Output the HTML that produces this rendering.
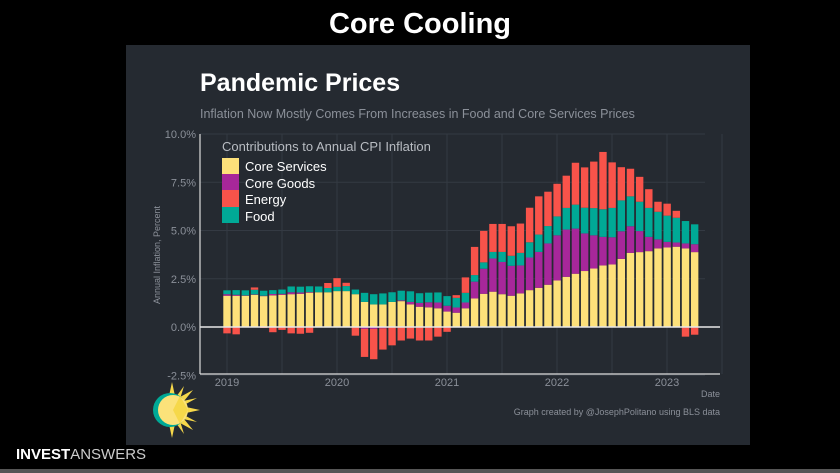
<!DOCTYPE html>
<html><head><meta charset="utf-8"><style>
html,body{margin:0;padding:0;background:#000;width:840px;height:473px;overflow:hidden;font-family:"Liberation Sans",sans-serif}
</style></head><body>
<svg width="840" height="473" viewBox="0 0 840 473">
<rect x="0" y="0" width="840" height="473" fill="#000"/>
<rect x="0" y="469" width="840" height="4" fill="#555"/>
<text x="420" y="33" text-anchor="middle" font-size="29" font-weight="bold" fill="#fff">Core Cooling</text>
<rect x="126" y="45" width="624" height="400" fill="#252a31"/>
<text x="200" y="91" font-size="25" font-weight="bold" fill="#fff">Pandemic Prices</text>
<text x="200" y="118" font-size="12.5" fill="#8b9099">Inflation Now Mostly Comes From Increases in Food and Core Services Prices</text>
<g id="grid"></g>
<g id="bars"></g>
<g id="axes"></g>
<text transform="translate(160,255) rotate(-90)" text-anchor="middle" font-size="9" fill="#8b9099">Annual Inflation, Percent</text>
<text x="720" y="397" text-anchor="end" font-size="9" fill="#8b9099">Date</text>
<text x="720" y="415" text-anchor="end" font-size="9" fill="#8b9099">Graph created by @JosephPolitano using BLS data</text>
<g>
<text x="222" y="151" font-size="13" fill="#b8bcc2">Contributions to Annual CPI Inflation</text>
<rect x="222" y="158" width="17" height="16" fill="#fde17a"/>
<text x="245" y="171" font-size="13" fill="#fff">Core Services</text>
<rect x="222" y="174" width="17" height="16" fill="#a7279a"/>
<text x="245" y="188" font-size="13" fill="#fff">Core Goods</text>
<rect x="222" y="190" width="17" height="17" fill="#f8534a"/>
<text x="245" y="204" font-size="13" fill="#fff">Energy</text>
<rect x="222" y="207" width="17" height="16" fill="#00a996"/>
<text x="245" y="221" font-size="13" fill="#fff">Food</text>
</g>
<g>
<g fill="#f6d84a">
<polygon points="172,382 175,396 169,396"/><polygon points="172,438 175,424 169,424"/>
<polygon points="200,410 186,413 186,407"/><polygon points="193,390 184,401 180,397"/>
<polygon points="193,430 180,423 184,419"/><polygon points="184,386 180,399 176,397"/>
<polygon points="184,434 176,423 180,421"/><polygon points="197,398 184,405 183,401"/>
<polygon points="197,422 183,419 184,415"/>
</g>
<circle cx="170" cy="410" r="17" fill="#00a996"/>
<circle cx="173" cy="410" r="15" fill="#fbe27a"/>
<polygon points="173,410 180,396 188,410 180,424" fill="#f6d84a"/>
</g>
<text x="16" y="459" font-size="15" fill="#fff"><tspan font-weight="bold">INVEST</tspan><tspan fill="#ccc">ANSWERS</tspan></text>
</svg>
<script>
const categories = ["2019-01","2019-02","2019-03","2019-04","2019-05","2019-06","2019-07","2019-08","2019-09","2019-10","2019-11","2019-12","2020-01","2020-02","2020-03","2020-04","2020-05","2020-06","2020-07","2020-08","2020-09","2020-10","2020-11","2020-12","2021-01","2021-02","2021-03","2021-04","2021-05","2021-06","2021-07","2021-08","2021-09","2021-10","2021-11","2021-12","2022-01","2022-02","2022-03","2022-04","2022-05","2022-06","2022-07","2022-08","2022-09","2022-10","2022-11","2022-12","2023-01","2023-02","2023-03","2023-04"];
const coreServices = [1.62,1.62,1.62,1.67,1.6,1.64,1.67,1.7,1.72,1.78,1.8,1.8,1.86,1.86,1.7,1.3,1.17,1.17,1.3,1.34,1.17,1.05,1.02,0.97,0.8,0.74,0.97,1.48,1.72,1.83,1.7,1.62,1.74,1.91,2.03,2.19,2.41,2.6,2.76,2.9,3.03,3.19,3.24,3.53,3.84,3.88,3.93,4.07,4.12,4.16,4.07,3.88];
const coreGoods = [0.08,0.05,0.02,0.02,0.02,0.07,0.05,0.1,0.07,0.03,0,0,0,0,0,-0.1,-0.1,-0.07,0,0.04,0.13,0.2,0.26,0.3,0.3,0.27,0.3,0.87,1.3,1.72,1.67,1.55,1.45,1.69,1.86,2.14,2.34,2.45,2.34,1.95,1.72,1.48,1.41,1.43,1.38,1.09,0.74,0.47,0.29,0.22,0.26,0.41];
const food = [0.2,0.24,0.26,0.24,0.26,0.2,0.22,0.3,0.3,0.3,0.3,0.22,0.22,0.26,0.24,0.47,0.53,0.57,0.5,0.5,0.55,0.5,0.5,0.52,0.5,0.5,0.5,0.34,0.33,0.34,0.52,0.52,0.65,0.79,0.9,0.9,0.98,1.12,1.24,1.33,1.41,1.43,1.52,1.6,1.55,1.52,1.5,1.43,1.36,1.28,1.16,1.03];
const energy = [-0.33,-0.38,-0.02,0.12,-0.05,-0.27,-0.15,-0.33,-0.35,-0.3,-0.02,0.26,0.45,0.17,-0.45,-1.45,-1.57,-1.1,-0.95,-0.7,-0.6,-0.7,-0.7,-0.5,-0.25,0.14,0.8,1.46,1.63,1.45,1.45,1.53,1.52,1.79,1.98,1.78,1.69,1.67,2.17,2.09,2.41,2.97,2.36,1.72,1.43,1.29,0.97,0.52,0.62,0.36,-0.5,-0.4];
const yTicks = [-2.5,0,2.5,5,7.5,10];
const yTickLabels = ["-2.5%","0.0%","2.5%","5.0%","7.5%","10.0%"];
const xTickYears = [2019,2020,2021,2022,2023];

const NS="http://www.w3.org/2000/svg";
const x0=200,x1=705,yTop=134,yBot=374;
function yScale(v){return 327 - v*19.3;}
function xIndexScale(i){return 227 + i*9.17;}
function xYear(y){return 227 + (y-2019)*110;}
function mk(tag,attrs,parent){const e=document.createElementNS(NS,tag);for(const k in attrs)e.setAttribute(k,attrs[k]);parent.appendChild(e);return e;}
const grid=document.getElementById('grid'),bars=document.getElementById('bars'),axes=document.getElementById('axes');
yTicks.forEach((t,i)=>{
  const l=mk('line',{x1:x0,x2:x1,y1:yScale(t),y2:yScale(t),stroke:'#343a43','stroke-width':1},grid);
  
  
  const tx=mk('text',{x:x0-4,y:yScale(t)+4,'text-anchor':'end','font-size':11,fill:'#8b9099'},axes);
  tx.textContent=yTickLabels[i];
  
  
});
for(let y=2019;y<=2023.75;y+=0.5){
  const l=mk('line',{x1:xYear(y),x2:xYear(y),y1:yTop,y2:yBot,stroke:'#343a43','stroke-width':1},grid);
  
  
}
xTickYears.forEach(yr=>{
  const tx=mk('text',{x:xYear(yr),y:386,'text-anchor':'middle','font-size':11,fill:'#8b9099'},axes);
  tx.textContent=yr;
  
  
});
const colors={cs:'#fde17a',cg:'#a7279a',en:'#f8534a',fd:'#00a996'};
const bw=7.4;
categories.forEach((c,i)=>{
  const cx=xIndexScale(i);
  let pos=0,neg=0;
  [['cs',coreServices[i]],['cg',coreGoods[i]],['fd',food[i]],['en',energy[i]]].forEach(([k,v])=>{
    let a,b;
    if(v>=0){a=pos;b=pos+v;pos=b;}else{a=neg;b=neg+v;neg=b;}
    const yA=yScale(Math.max(a,b)),yB=yScale(Math.min(a,b));
    const r=mk('rect',{x:cx-bw/2,y:yA,width:bw,height:Math.max(0,yB-yA),fill:colors[k]},bars);
    
    
  });
});
const zl=mk('line',{x1:x0,x2:x1+15,y1:yScale(0),y2:yScale(0),stroke:'#e8e8e8','stroke-width':1.5},axes);


const ya=mk('line',{x1:x0,x2:x0,y1:yTop,y2:yBot,stroke:'#ddd','stroke-width':1.2},axes);


const xa=mk('line',{x1:x0,x2:x1+15,y1:yBot,y2:yBot,stroke:'#ddd','stroke-width':1.2},axes);


</script>
</body></html>
